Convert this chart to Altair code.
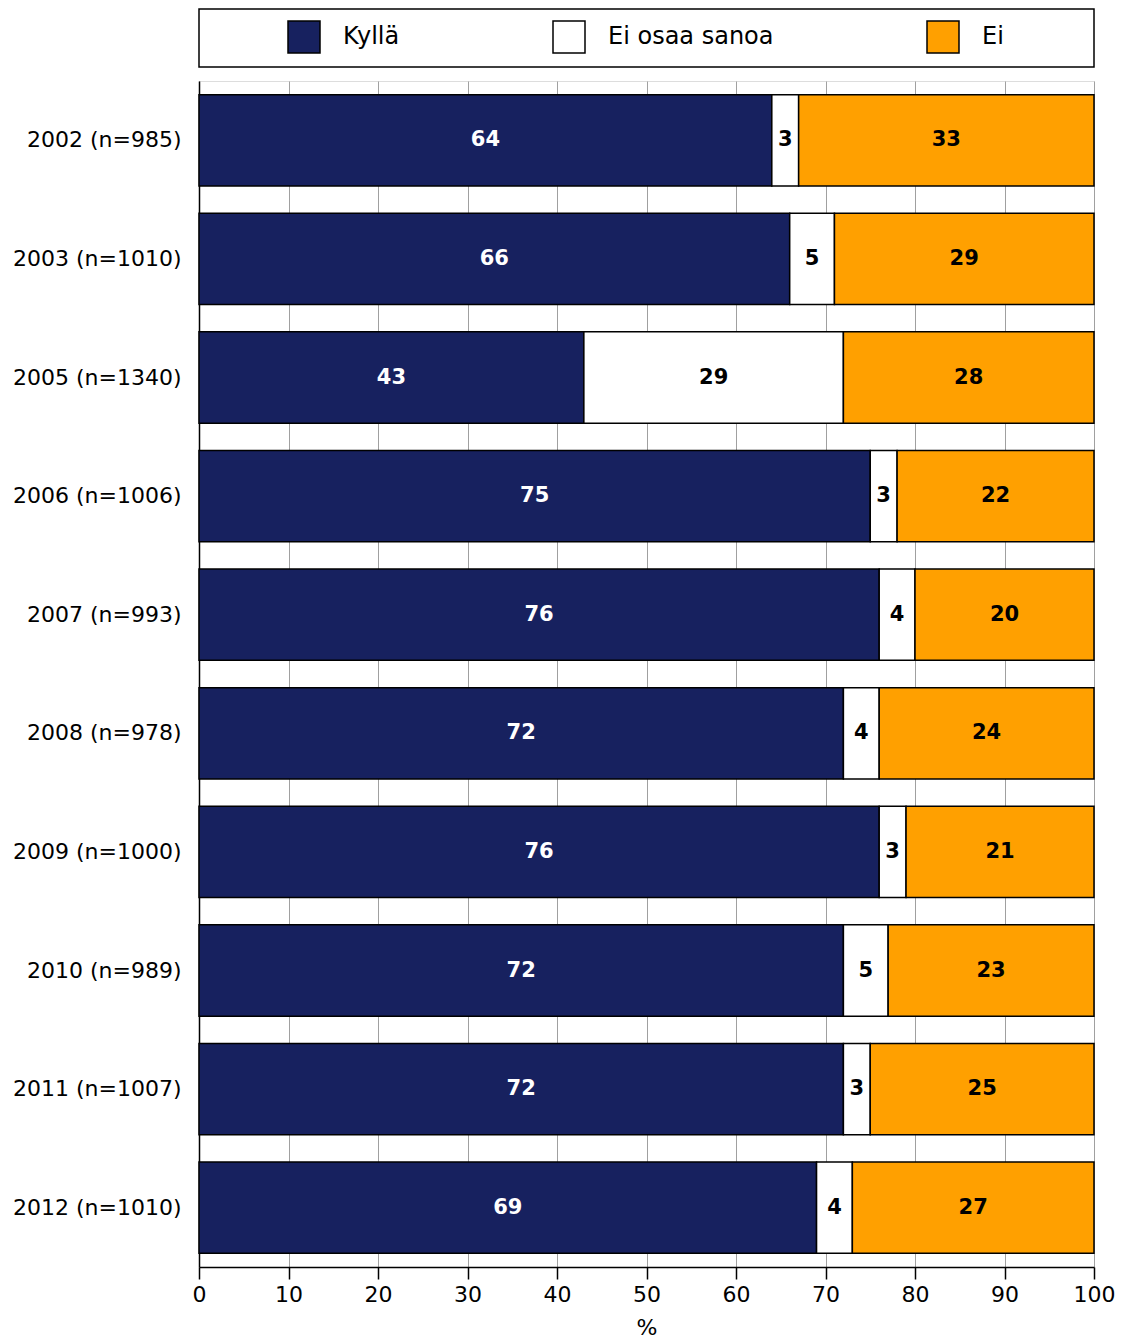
import altair as alt
import pandas as pd

years = ["2002 (n=985)", "2003 (n=1010)", "2005 (n=1340)", "2006 (n=1006)",
         "2007 (n=993)", "2008 (n=978)", "2009 (n=1000)", "2010 (n=989)",
         "2011 (n=1007)", "2012 (n=1010)"]
categories = ["Kyllä", "Ei osaa sanoa", "Ei"]
colors = ["#17215F", "#FFFFFF", "#FFA000"]
kylla = [64, 66, 43, 75, 76, 72, 76, 72, 72, 69]
eos = [3, 5, 29, 3, 4, 4, 3, 5, 3, 4]
ei = [33, 29, 28, 22, 20, 24, 21, 23, 25, 27]
x_ticks = [0, 10, 20, 30, 40, 50, 60, 70, 80, 90, 100]

rows = []
for i, y in enumerate(years):
    for k, (cat, vals) in enumerate(zip(categories, [kylla, eos, ei])):
        rows.append({"year": y, "cat": cat, "value": vals[i], "ord": k})
df = pd.DataFrame(rows)

FONT = "DejaVu Sans"

color_scale = alt.Scale(domain=categories, range=colors)
y_enc = alt.Y("year:N", sort=years,
              scale=alt.Scale(paddingInner=0.23, paddingOuter=0.115),
              axis=alt.Axis(title=None, ticks=False, domainColor="black", domainWidth=1.5,
                            labelFontSize=22, labelFont=FONT, labelColor="black",
                            labelPadding=18, grid=False))

legend = alt.Legend(title=None, orient="none", legendX=88, legendY=11,
                    direction="horizontal", symbolType="square", symbolSize=1024,
                    symbolStrokeColor="black", symbolStrokeWidth=1.5,
                    labelFontSize=24, labelFont=FONT, labelColor="black",
                    labelOffset=22, labelLimit=400, columnPadding=150)

bars = alt.Chart(df).mark_bar(stroke="black", strokeWidth=1.5).encode(
    y=y_enc,
    x=alt.X("value:Q", stack="zero",
            scale=alt.Scale(domain=[0, 100], nice=False),
            axis=alt.Axis(title="%", values=x_ticks, grid=True, gridColor="#A0A0A0",
                          gridWidth=1, tickColor="black", tickSize=12, tickWidth=1.5,
                          domainColor="black", domainWidth=1.5, labelFlush=False,
                          labelFontSize=22, labelFont=FONT, labelColor="black",
                          labelPadding=5, titleFontSize=22, titleFont=FONT,
                          titleFontWeight="normal", titleColor="black", titlePadding=12)),
    color=alt.Color("cat:N", scale=color_scale, legend=legend),
    order=alt.Order("ord:Q"),
)

labels = alt.Chart(df).transform_stack(
    stack="value", groupby=["year"], as_=["v0", "v1"],
    sort=[alt.SortField("ord", order="ascending")]
).transform_calculate(
    mid="(datum.v0 + datum.v1) / 2"
).mark_text(font=FONT, fontWeight="bold", fontSize=21, baseline="middle",
            align="center").encode(
    y=alt.Y("year:N", sort=years),
    x=alt.X("mid:Q"),
    text=alt.Text("value:Q"),
    color=alt.condition("datum.cat == 'Kyllä'", alt.value("white"), alt.value("black")),
)

main = alt.layer(bars, labels).properties(width=895, height=1186)

top = alt.Chart(pd.DataFrame({"c": categories})).mark_text(text="").encode(
    x=alt.value(447), y=alt.value(29)
).properties(width=895, height=58,
             view=alt.ViewBackground(stroke="black", strokeWidth=1.5, fill="white"))

chart = alt.vconcat(top, main, spacing=12).properties(
    padding={"left": 3, "top": 0, "right": 0, "bottom": 0}
).configure_view(stroke="black", strokeWidth=1.5).configure(font=FONT)

chart.save("out.html", embed_options={"renderer": "svg", "actions": False})
